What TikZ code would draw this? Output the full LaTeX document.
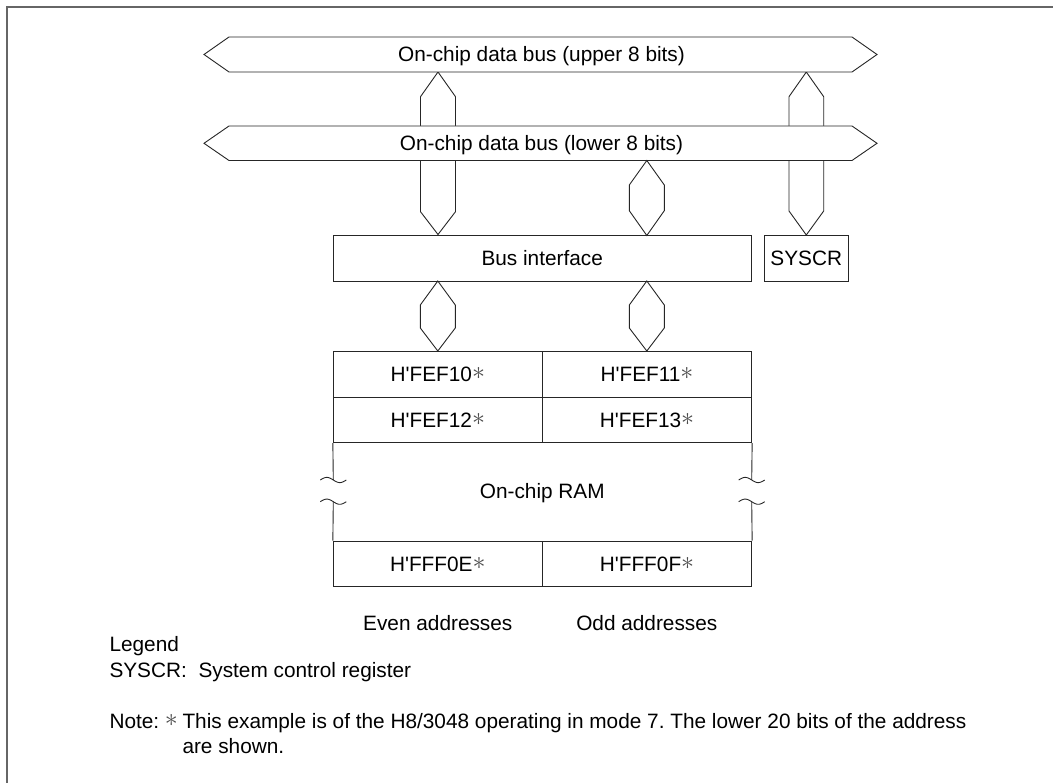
\documentclass[tikz,border=0pt]{standalone}
\usepackage{fontspec}
\usepackage{graphicx}
\setmainfont{Liberation Sans}
\usetikzlibrary{calc}
\newcommand{\myast}{{\color{black!70}\raisebox{1.8pt}{\scalebox{1.25}{$\ast$}}}}
\newcommand{\q}{\textquotesingle}
\frenchspacing
\begin{document}
\begin{tikzpicture}[x=1pt,y=-1pt,
  ln/.style={draw=black!85,line width=0.9pt,line join=miter},
  box/.style={ln,rectangle,inner sep=0pt,minimum height=46pt},
  lbl/.style={font=\fontsize{20.8}{24}\selectfont,inner sep=0pt,anchor=base},
  txt/.style={font=\fontsize{20.8}{24}\selectfont,inner sep=0pt,anchor=base west}]
\useasboundingbox (0,0) rectangle (1053,783);
% frame
\draw[draw=black!60,line width=2pt] (6.5,783) -- (6.5,7.5) -- (1053,7.5);

% vertical buses (drawn first, the lower bus covers them)
\draw[ln,fill=white] (438,72) -- (455.5,96.7) -- (455.5,211.7) -- (438,234.5) -- (420.5,211.7) -- (420.5,96.7) -- cycle;
\draw[ln,fill=white] (806.3,72) -- (823.7,96.7) -- (823.7,211) -- (806.3,235) -- (789,211) -- (789,96.7) -- cycle;

% horizontal buses
\draw[ln,fill=white] (204,54.5) -- (229,37) -- (852,37) -- (877,54.5) -- (852,72) -- (229,72) -- cycle;
\node[lbl] (ub) at (541.5,62) {On-chip data bus (upper 8 bits)};
\draw[ln,fill=white] (204,143.3) -- (229,126) -- (852,126) -- (877,143.3) -- (852,160.5) -- (229,160.5) -- cycle;
\node[lbl] (lb) at (541.5,150.8) {On-chip data bus (lower 8 bits)};

% middle hexagon
\draw[ln] (646.8,160.5) -- (664.3,185) -- (664.3,210.7) -- (646.8,235.5) -- (629.3,210.7) -- (629.3,185) -- cycle;

% bus interface and SYSCR
\node[box,minimum width=417.7pt] (bi) at (542.2,258) {};
\node[lbl] at ($(bi.center)+(0,7.5)$) {Bus interface};
\node[box,minimum width=84pt] (sys) at (806.3,258) {};
\node[lbl] at ($(sys.center)+(0,7.5)$) {SYSCR};

% hexagons to RAM
\foreach \cx in {437.8,646.8}{
  \draw[ln] (\cx,281) -- (\cx+17.5,305) -- (\cx+17.5,328) -- (\cx,351) -- (\cx-17.5,328) -- (\cx-17.5,305) -- cycle;
}

% RAM cells
\node[box,minimum width=209pt,minimum height=46.3pt] (c1) at (437.8,374.2) {};
\node[box,minimum width=209.4pt,minimum height=46.3pt] (c2) at (647,374.2) {};
\node[box,minimum width=209pt,minimum height=45.4pt] (c3) at (437.8,420) {};
\node[box,minimum width=209.4pt,minimum height=45.4pt] (c4) at (647,420) {};
\node[box,minimum width=209pt,minimum height=45pt] (c5) at (437.8,563.5) {};
\node[box,minimum width=209.4pt,minimum height=45pt] (c6) at (647,563.5) {};
\node[lbl] at ($(c1.center)+(0,7.5)$) {H\q FEF10\myast};
\node[lbl] at ($(c2.center)+(0,7.5)$) {H\q FEF11\myast};
\node[lbl] at ($(c3.center)+(0,7.5)$) {H\q FEF12\myast};
\node[lbl] at ($(c4.center)+(0,7.5)$) {H\q FEF13\myast};
\node[lbl] at ($(c5.center)+(0,7.5)$) {H\q FFF0E\myast};
\node[lbl] at ($(c6.center)+(0,7.5)$) {H\q FFF0F\myast};

% RAM body sides with breaks
\draw[ln] (c3.south west) -- (333.3,480);
\draw[ln] (333.3,501.7) -- (c5.north west);
\draw[ln] (c4.south east) -- (751.7,480);
\draw[ln] (751.7,501.7) -- (c6.north east);
\foreach \cx in {333.3,751.7}{
  \foreach \cy in {480,501.7}{
    \draw[ln] plot[domain=-13:13,samples=31,smooth] ({\cx+\x},{\cy+2.6*sin(\x/13*180)});
  }
}
\node[lbl] (ram) at (542.3,499) {On-chip RAM};

\node[lbl] (even) at (437.8,630) {Even addresses};
\node[lbl] (odd) at (646.8,630) {Odd addresses};

% legend
\node[txt] (leg) at (109.3,651.7) {Legend};
\node[txt] (s1) at (109.3,677.3) {SYSCR:};
\node[txt] (s2) at (198.3,677.3) {System control register};
\node[txt] (n1) at (109.3,728.3) {Note: \myast};
\node[txt] (n2) at (182.3,728.3) {This example is of the H8/3048 operating in mode 7. The lower 20 bits of the address};
\node[txt] (n3) at (182.3,753.3) {are shown.};
\end{tikzpicture}
\end{document}
